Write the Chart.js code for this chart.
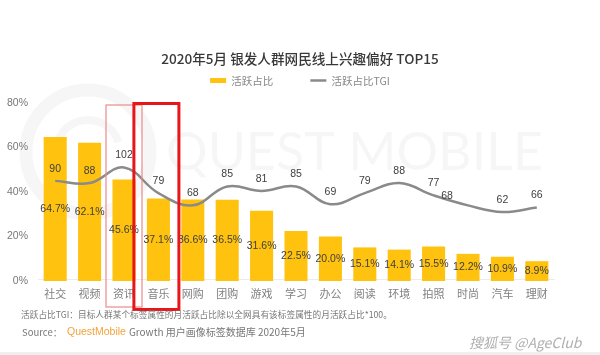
<!DOCTYPE html>
<html><head><meta charset="utf-8">
<script src="https://cdn.jsdelivr.net/npm/chart.js@4"></script>
<style>html,body{margin:0;padding:0;background:#fff}#wrap{width:600px;height:355px;position:relative}</style>
</head><body><div id="wrap"><canvas id="c" width="600" height="355"></canvas></div>
<script>
const categories = ['社交','视频','资讯','音乐','网购','团购','游戏','学习','办公','阅读','环境','拍照','时尚','汽车','理财'];
const activeShare = [64.7,62.1,45.6,37.1,36.6,36.5,31.6,22.5,20.0,15.1,14.1,15.5,12.2,10.9,8.9];
const activeTGI = [90,88,102,79,68,85,81,85,69,79,88,77,68,62,66];
const yTicks = [0,20,40,60,80];
const seriesNames = ['活跃占比','活跃占比TGI'];
const titleText = '2020年5月 银发人群网民线上兴趣偏好 TOP15';
const noteText = '活跃占比TGI：目标人群某个标签属性的月活跃占比除以全网具有该标签属性的月活跃占比*100。';
const sourceParts = ['Source：', 'QuestMobile', 'Growth 用户画像标签数据库 2020年5月'];
const watermarkText = 'QUEST MOBILE';
const creditText = '搜狐号 @AgeClub';

const FONT = '"Liberation Sans", "Noto Sans CJK SC", Arial, sans-serif';
const CJK = '"Noto Sans CJK SC", "Liberation Sans", sans-serif';

// label nudges (px) for crowded TGI labels
const tgiLabelShift = {12: [-21, 3]};

const bgPlugin = {
  id: 'bg',
  beforeDraw(chart) {
    const ctx = chart.ctx;
    ctx.save();
    ctx.fillStyle = '#fff';
    ctx.fillRect(0, 0, chart.width, chart.height);
    ctx.strokeStyle = 'rgba(0,0,0,0.035)';
    ctx.lineWidth = 13;
    ctx.beginPath();
    ctx.arc(88, 152, 62, 0, Math.PI * 2);
    ctx.stroke();
    ctx.lineWidth = 8;
    ctx.beginPath();
    ctx.arc(88, 152, 32, Math.PI * 0.9, Math.PI * 1.9);
    ctx.stroke();
    ctx.fillStyle = 'rgba(0,0,0,0.035)';
    ctx.font = '52px Lato, "Liberation Sans", sans-serif';
    ctx.textBaseline = 'alphabetic';
    ctx.textAlign = 'left';
    ctx.fillText(watermarkText, 166, 170);
    ctx.restore();
  }
};

const labelPlugin = {
  id: 'valueLabels',
  afterDatasetsDraw(chart) {
    const ctx = chart.ctx;
    ctx.save();
    ctx.font = '10.5px ' + FONT;
    ctx.fillStyle = '#404040';
    ctx.textAlign = 'center';
    ctx.textBaseline = 'middle';
    chart.getDatasetMeta(0).data.forEach((el, i) => {
      const p = el.getProps(['x', 'y', 'base'], true);
      ctx.fillText(activeShare[i].toFixed(1) + '%', p.x, (p.y + p.base) / 2);
    });
    chart.getDatasetMeta(1).data.forEach((pt, i) => {
      const o = tgiLabelShift[i] || [0, 0];
      ctx.fillText(String(activeTGI[i]), pt.x + o[0], pt.y - 12 + o[1]);
    });
    ctx.restore();
  }
};

const overlayPlugin = {
  id: 'overlay',
  afterDraw(chart) {
    const ctx = chart.ctx;
    const x = chart.scales.x;
    ctx.save();
    const cx2 = x.getPixelForValue(2);
    ctx.strokeStyle = '#ec8a8a';
    ctx.lineWidth = 1.2;
    ctx.strokeRect(cx2 - 18, 105, 36, 202);
    const cx3 = x.getPixelForValue(3);
    ctx.strokeStyle = '#e8161b';
    ctx.lineWidth = 3;
    ctx.strokeRect(cx3 - 24.5, 103.5, 45, 206);
    ctx.textAlign = 'left';
    ctx.textBaseline = 'middle';
    ctx.font = '8.7px ' + CJK;
    ctx.fillStyle = '#777';
    ctx.fillText(noteText, 21, 315);
    let sx = 22;
    ctx.font = '9.5px ' + CJK;
    ctx.fillText(sourceParts[0], sx, 332);
    sx = 67;
    ctx.fillStyle = '#f2a33a';
    ctx.font = '10.5px ' + FONT;
    ctx.fillText(sourceParts[1], sx, 332);
    sx += ctx.measureText(sourceParts[1]).width + 3;
    ctx.fillStyle = '#777';
    ctx.font = '10px ' + CJK;
    ctx.fillText(sourceParts[2], sx, 332);
    ctx.font = 'italic 14px ' + CJK;
    ctx.fillStyle = '#b0b0b0';
    ctx.fillText(creditText, 469, 343);
    ctx.fillStyle = '#efefef';
    ctx.fillRect(0, 352, 600, 3);
    ctx.restore();
  }
};

const legendFitPlugin = {
  id: 'legendFit',
  afterInit(chart) {
    const lg = chart.legend;
    if (!lg) return;
    const f = lg.fit;
    lg.fit = function () { f.call(this); this.height += 5.5; };
  }
};

new Chart(document.getElementById('c'), {
  type: 'bar',
  data: {
    labels: categories,
    datasets: [
      {
        type: 'bar',
        label: seriesNames[0],
        data: activeShare,
        backgroundColor: '#FFC20E',
        borderWidth: 0,
        barPercentage: 0.67,
        categoryPercentage: 1,
        pointStyle: 'rect',
        yAxisID: 'y',
        order: 1
      },
      {
        type: 'line',
        label: seriesNames[1],
        data: activeTGI,
        borderColor: '#8a8a8a',
        backgroundColor: '#8a8a8a',
        borderWidth: 2.5,
        pointRadius: 0,
        pointStyle: 'line',
        tension: 0.4,
        fill: false,
        yAxisID: 'y1',
        order: 0
      }
    ]
  },
  options: {
    responsive: false,
    animation: false,
    events: [],
    devicePixelRatio: 1,
    layout: { padding: { top: 40, right: 0, bottom: 52, left: 0 } },
    plugins: {
      title: {
        display: true,
        text: titleText,
        color: '#383838',
        font: { size: 13.6, weight: '500', family: CJK },
        padding: { top: 10.5, bottom: -28.5 }
      },
      legend: {
        display: true,
        labels: {
          usePointStyle: true,
          pointStyleWidth: 16,
          boxHeight: 5,
          color: '#888',
          font: { size: 10.5, family: CJK },
          padding: 37,
          sort: (a, b) => a.datasetIndex - b.datasetIndex
        }
      },
      tooltip: { enabled: false }
    },
    scales: {
      x: {
        grid: { display: false, drawTicks: false },
        border: { display: true, color: '#ececec' },
        ticks: { color: '#808080', font: { size: 11, family: CJK }, padding: 8, maxRotation: 0, autoSkip: false },
        afterFit(s) { s.height = 22; }
      },
      y: {
        min: 0,
        max: 80,
        afterBuildTicks(s) { s.ticks = yTicks.map(v => ({ value: v })); },
        ticks: { color: '#777', font: { size: 10.5, family: FONT }, padding: 10, callback: v => v + '%' },
        grid: { display: false, drawTicks: false },
        border: { display: false },
        afterFit(s) { s.width = 38; }
      },
      y1: {
        display: true,
        position: 'right',
        min: 0,
        max: 160,
        grid: { display: false, drawTicks: false },
        border: { display: false },
        ticks: { display: false },
        afterFit(s) { s.width = 46; }
      }
    }
  },
  plugins: [bgPlugin, labelPlugin, overlayPlugin, legendFitPlugin]
});
</script>
</body></html>
